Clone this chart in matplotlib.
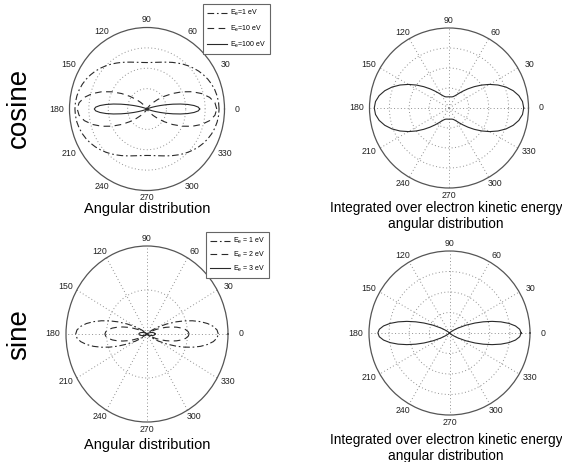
import numpy as np
import matplotlib
matplotlib.use('Agg')
import matplotlib.pyplot as plt

plt.rcParams['font.family'] = ['Liberation Sans', 'DejaVu Sans']

# ---- data (quarter curves 0..90 deg, the rest is mirrored) ----
ang_wide = [0, 5, 10, 15, 20, 25, 30, 35, 40, 45, 50, 55, 60, 65, 70, 75, 80, 85, 90]
ang_narrow = [0, 2, 4, 6, 8, 10, 12, 14, 16, 18, 20, 23, 26, 30, 40, 90]
ang_lobe = [0, 3, 6, 9, 12, 15, 18, 21, 25, 30, 35, 40, 50, 60, 90]

# cosine, angular distribution
cos_1eV = [.930, .927, .919, .906, .888, .866, .840, .812, .781, .750,
           .719, .688, .660, .634, .612, .594, .581, .573, .570]
cos_10eV = [.900, .880, .821, .731, .620, .499, .380, .272, .182, .113,
            .063, .032, .014, .005, .001, 0, 0, 0, 0]
cos_100eV = [.680, .662, .609, .531, .438, .341, .252, .175, .115, .071,
             .041, .016, .006, .001, 0, 0]
# cosine, integrated
cos_int = [.940, .928, .892, .836, .764, .680, .590, .500, .415, .340,
           .277, .227, .190, .166, .151, .144, .141, .140, .140]
# sine, angular distribution
sin_1eV = [.880, .866, .824, .758, .675, .581, .482, .386, .270, .157,
           .080, .036, .004, 0, 0]
sin_2eV = [.520, .509, .479, .432, .373, .309, .245, .185, .119, .060,
           .026, .010, .001, 0, 0]
sin_3eV = [.100, .098, .094, .086, .077, .066, .055, .044, .031, .018,
           .009, .004, 0, 0, 0]
# sine, integrated
sin_int = [.890, .873, .824, .748, .653, .548, .441, .340, .225, .119,
           .054, .021, .002, 0, 0]

tick_deg = list(range(0, 360, 30))
labels_cos = ['$\\mathregular{E_e}$=1 eV', '$\\mathregular{E_e}$=10 eV', '$\\mathregular{E_e}$=100 eV']
labels_sin = ['$\\mathregular{E_e}$ = 1 eV', '$\\mathregular{E_e}$ = 2 eV', '$\\mathregular{E_e}$ = 3 eV']

W, H = 562, 462
fig = plt.figure(figsize=(W / 100, H / 100), dpi=100)


def full(ang, r):
    # mirror the first quadrant into all four
    a = np.radians(np.array(ang, dtype=float))
    r = np.array(r, dtype=float)
    th = np.concatenate([a, np.pi - a[::-1], np.pi + a[1:], 2 * np.pi - a[::-1]])
    rr = np.concatenate([r, r[::-1], r[1:], r[::-1]])
    return th, rr


def polar_ax(cx, cy, rx, ry, rings, spokes):
    ax = fig.add_axes([(cx - rx) / W, 1 - (cy + ry) / H, 2 * rx / W, 2 * ry / H],
                      projection='polar')
    ax.set_aspect('auto')
    ax.set_ylim(0, 1)
    ax.set_yticks(rings)
    ax.set_yticklabels([])
    ax.set_xticks(np.radians(tick_deg))
    ax.set_xticklabels([])
    ax.tick_params(length=0)
    ax.grid(True, color='#909090', linestyle=(0, (1, 2.5)), linewidth=0.7)
    if not spokes:
        ax.xaxis.grid(False)
    ax.spines['polar'].set_color('#555555')
    ax.spines['polar'].set_linewidth(0.9)
    for d in tick_deg:
        t = np.radians(d)
        ax.annotate(str(d), xy=(t, 1.0), xytext=(np.cos(t) * 13, np.sin(t) * 7.5),
                    textcoords='offset pixels', ha='center', va='center',
                    fontsize=6.3, color='#222222', annotation_clip=False)
    return ax


dashdot = (0, (6, 2.5, 1.5, 2.5))
dashed = (0, (6, 4))
lc = '#2a2a2a'
leg_kw = dict(loc='upper left', borderaxespad=0, fontsize=5, fancybox=False,
              edgecolor='#666666', framealpha=1, handlelength=2.9,
              handletextpad=0.4, borderpad=0.6)

# top-left
ax1 = polar_ax(147, 109, 77.5, 81.5, [0.25, 0.5, 0.75], False)
l1, = ax1.plot(*full(ang_wide, cos_1eV), color=lc, lw=0.8, linestyle=dashdot)
l2, = ax1.plot(*full(ang_wide, cos_10eV), color=lc, lw=0.8, linestyle=dashed)
l3, = ax1.plot(*full(ang_narrow, cos_100eV), color=lc, lw=0.8)
lg1 = fig.legend([l1, l2, l3], labels_cos, bbox_to_anchor=(203 / W, 1 - 4 / H),
                 labelspacing=0.8, **leg_kw)
lg1.get_frame().set_linewidth(0.8)

# top-right
ax2 = polar_ax(449, 108, 79.5, 80, [0.25, 0.5, 0.75], True)
ax2.plot(*full(ang_wide, cos_int), color=lc, lw=0.8)

# bottom-left
ax3 = polar_ax(147, 334, 81, 88, [0.5], True)
m1, = ax3.plot(*full(ang_lobe, sin_1eV), color=lc, lw=0.8, linestyle=dashdot)
m2, = ax3.plot(*full(ang_lobe, sin_2eV), color=lc, lw=0.8, linestyle=dashed)
m3, = ax3.plot(*full(ang_lobe, sin_3eV), color=lc, lw=0.8)
lg2 = fig.legend([m1, m2, m3], labels_sin, bbox_to_anchor=(206 / W, 1 - 232 / H),
                 labelspacing=0.5, **leg_kw)
lg2.get_frame().set_linewidth(0.8)

# bottom-right
ax4 = polar_ax(449.5, 333, 80.5, 82, [0.25, 0.5, 0.75], True)
ax4.plot(*full(ang_lobe, sin_int), color=lc, lw=0.8)

# titles
fig.text(147 / W, 1 - 209.5 / H, 'Angular distribution', ha='center', va='center', fontsize=10.5)
fig.text(147 / W, 1 - 445 / H, 'Angular distribution', ha='center', va='center', fontsize=10.5)
fig.text(446 / W, 1 - 216 / H, 'Integrated over electron kinetic energy\nangular distribution',
         ha='center', va='center', fontsize=9.8, linespacing=1.2)
fig.text(446 / W, 1 - 448 / H, 'Integrated over electron kinetic energy\nangular distribution',
         ha='center', va='center', fontsize=9.8, linespacing=1.2)

fig.text(19 / W, 1 - 108 / H, 'cosine', rotation=90, ha='center', va='center', fontsize=20)
fig.text(19 / W, 1 - 335 / H, 'sine', rotation=90, ha='center', va='center', fontsize=20)

fig.savefig('out.png', dpi=100)
